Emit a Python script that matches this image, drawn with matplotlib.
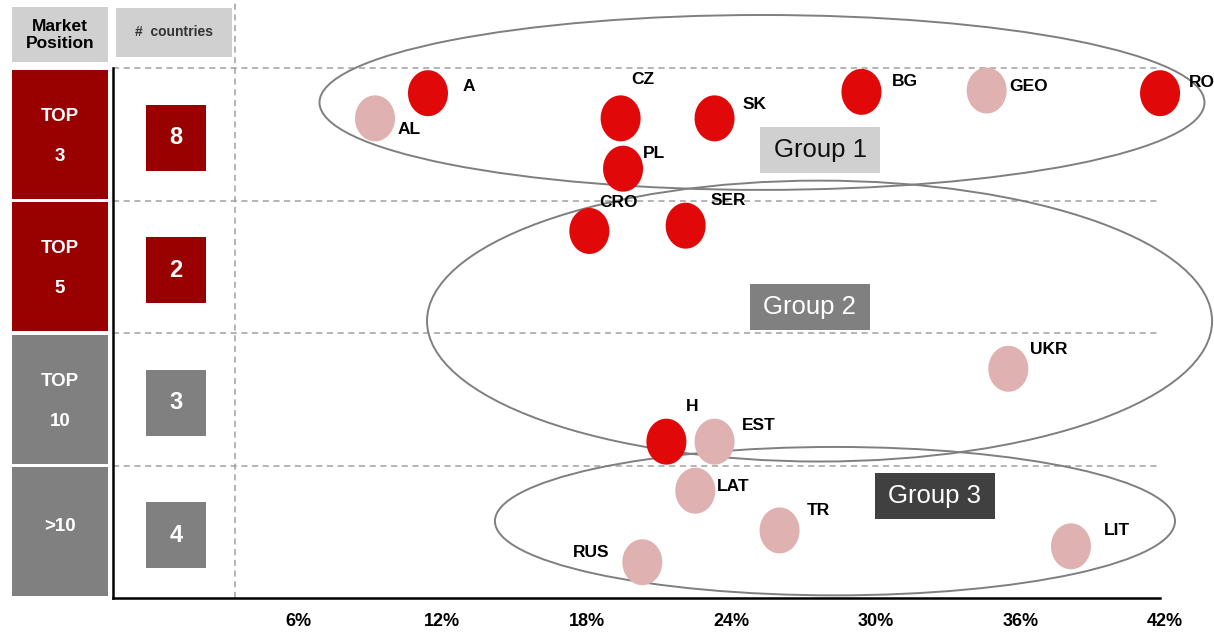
import numpy as np
import matplotlib
matplotlib.use("Agg")
import matplotlib.pyplot as plt
from matplotlib.patches import Ellipse, Rectangle
from matplotlib.path import Path
from matplotlib.lines import Line2D
from matplotlib import font_manager

# --- data ---
countries = ["A", "AL", "CZ", "PL", "SK", "BG", "GEO", "RO", "CRO", "SER",
             "UKR", "H", "EST", "LAT", "TR", "RUS", "LIT"]
growth = [11.4, 9.2, 19.4, 19.5, 23.3, 29.4, 34.6, 41.8, 18.1, 22.1,
          35.5, 21.3, 23.3, 22.5, 26.0, 20.3, 38.1]
position = [3.81, 3.62, 3.62, 3.24, 3.62, 3.82, 3.83, 3.81, 2.77, 2.81,
            1.73, 1.18, 1.18, 0.81, 0.51, 0.27, 0.39]
highlight = [1, 0, 1, 1, 1, 1, 0, 1, 1, 1, 0, 1, 0, 0, 0, 0, 0]

row_names = [">10", "TOP\n10", "TOP\n5", "TOP\n3"]   # bottom -> top
row_counts = [4, 3, 2, 8]
row_strong = [0, 0, 1, 1]

x_ticks = [6, 12, 18, 24, 30, 36, 42]

groups = ["Group 1", "Group 2", "Group 3"]
group_center = [(25.27, 3.74), (27.66, 2.09), (28.30, 0.58)]
group_size = [(36.75, 1.32), (32.6, 2.12), (28.24, 1.12)]
group_box = [(25.19, 3.21), (24.77, 2.02), (29.96, 0.596)]
group_box_color = ["#D0D0D0", "#808080", "#404040"]
group_text_color = ["#111111", "white", "white"]

# label offsets in pixels (dx to left edge, dy up)
label_off = {
    "A": (35, 7), "AL": (23, -11), "CZ": (11, 39), "PL": (20, 15),
    "SK": (28, 14), "BG": (30, 10), "GEO": (23, 4), "RO": (29, 11),
    "CRO": (10, 28), "SER": (25, 25), "UKR": (22, 19), "H": (19, 35),
    "EST": (27, 16), "LAT": (22, 4), "TR": (27, 20), "RUS": (-69, 10),
    "LIT": (33, 16),
}

RED = "#E00808"
PINK = "#DFB1B1"
DARKRED = "#990000"
GREY = "#808080"

plt.rcParams['font.family'] = ['Liberation Sans', 'DejaVu Sans']

W, H = 1214, 634
fig = plt.figure(figsize=(W / 100, H / 100), dpi=100)
fig.patch.set_facecolor("white")


def px_rect(l, t, r, b):
    return [l / W, 1 - b / H, (r - l) / W, (b - t) / H]


YMAX = 598 / 132.5
X0, X1 = -1.68, 44.04
XEND = 41.8

ax = fig.add_axes(px_rect(113, 0, 1214, 598))
ax.set_xlim(X0, X1)
ax.set_ylim(0, YMAX)
ax.patch.set_alpha(0)

lax = fig.add_axes(px_rect(0, 0, 235, 598), zorder=-1)
lax.set_xlim(0, 235)
lax.set_ylim(0, YMAX)
lax.axis('off')

# --- grid / axes ---
ax.hlines([1, 2, 3, 4], X0, XEND, colors="#A0A0A0", linestyles=(0, (4, 3)), lw=1.1, zorder=1)
for s in ["top", "right"]:
    ax.spines[s].set_visible(False)
ax.spines["left"].set_bounds(0, 4)
ax.spines["bottom"].set_bounds(X0, XEND)
for s in ["left", "bottom"]:
    ax.spines[s].set_linewidth(1.8)
    ax.spines[s].set_color("black")
ax.set_yticks([])
ax.set_xticks(x_ticks)
ax.set_xticklabels([f"{v}%" for v in x_ticks], fontsize=13, fontweight="bold")
ax.tick_params(axis="x", length=0, pad=11)

lax.add_line(Line2D([235, 235], [0, YMAX], color="#A0A0A0", ls=(0, (4, 3)), lw=1.1, clip_on=False))

# --- group ellipses ---
for (cx, cy), (w, h) in zip(group_center, group_size):
    ax.add_patch(Ellipse((cx, cy), w, h, fill=False, ec="#7F7F7F", lw=1.4, zorder=2, clip_on=False))

for g, (bx, by), fc, tc in zip(groups, group_box, group_box_color, group_text_color):
    ax.add_patch(Rectangle((bx, by), 4.98, 0.347, fc=fc, ec="none", zorder=3))
    ax.text(bx + 2.49, by + 0.1735, g, ha="center", va="center", fontsize=18.5, color=tc, zorder=4)

# --- country bubbles ---
t = np.linspace(0, 2 * np.pi, 80)
oval = Path(np.column_stack([0.87 * np.cos(t), np.sin(t)]), closed=True)
colors = [RED if h else PINK for h in highlight]
ax.scatter(growth, position, s=33.1 ** 2, marker=oval, c=colors, linewidths=0, zorder=5, clip_on=False)

for name, x, y in zip(countries, growth, position):
    dx, dy = label_off[name]
    ax.annotate(name, (x, y), xytext=(dx, dy), textcoords="offset pixels",
                ha="left", va="center", fontsize=12.5, fontweight="bold", zorder=6)

# --- left panel ---
lax.add_patch(Rectangle((12, (598 - 62) / 132.5), 96, 55 / 132.5, fc="#D0D0D0", ec="none"))
lax.text(60, (598 - 35) / 132.5, "Market\nPosition", ha="center", va="center",
         fontsize=12.5, fontweight="bold", linespacing=1.1)
lax.add_patch(Rectangle((116, (598 - 57) / 132.5), 116, 49 / 132.5, fc="#D0D0D0", ec="none"))
lax.text(174, (598 - 32) / 132.5, "#  countries", ha="center", va="center",
         fontsize=10, fontweight="bold", color="#333333")

for i, (nm, cnt, strong) in enumerate(zip(row_names, row_counts, row_strong)):
    col = DARKRED if strong else GREY
    lax.add_patch(Rectangle((12, i + 0.015), 96, 0.97, fc=col, ec="none"))
    parts = nm.split("\n")
    mid = i + 0.5
    if len(parts) == 2:
        lax.text(60, mid + 0.135, parts[0], ha="center", va="center", color="white",
                 fontsize=13.5, fontweight="bold")
        lax.text(60, mid - 0.165, parts[1], ha="center", va="center", color="white",
                 fontsize=13.5, fontweight="bold")
    else:
        lax.text(60, mid + 0.04, parts[0], ha="center", va="center", color="white",
                 fontsize=13.5, fontweight="bold")
    lax.add_patch(Rectangle((146, mid - 0.025 - 0.249), 60, 0.498, fc=col, ec="none"))
    lax.text(176, mid - 0.025, str(cnt), ha="center", va="center", color="white",
             fontsize=17, fontweight="bold")

fig.savefig("out.png", dpi=100)
